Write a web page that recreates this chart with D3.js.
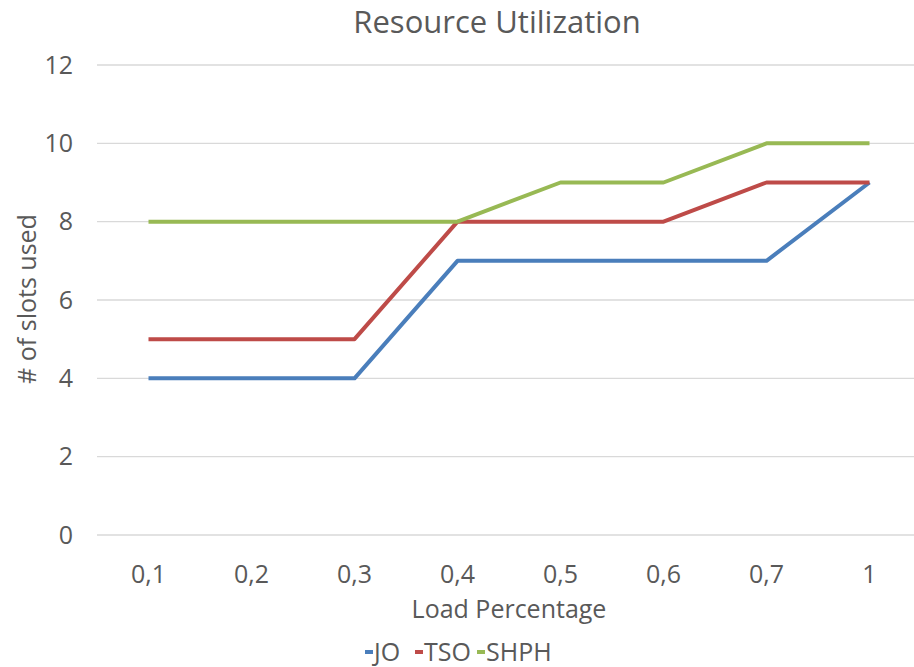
<!DOCTYPE html>
<html>
<head>
<meta charset="utf-8">
<script src="https://cdn.jsdelivr.net/npm/d3@7"></script>
<style>
  body { margin: 0; background: #fff; }
  text { font-family: "Open Sans", sans-serif; fill: #595959; }
</style>
</head>
<body>
<div id="chart"></div>
<script>
// Chart data
var categories = ["0,1", "0,2", "0,3", "0,4", "0,5", "0,6", "0,7", "1"];
var seriesNames = ["JO", "TSO", "SHPH"];
var joValues = [4, 4, 4, 7, 7, 7, 7, 9];
var tsoValues = [5, 5, 5, 8, 8, 8, 9, 9];
var shphValues = [8, 8, 8, 8, 9, 9, 10, 10];
var yTicks = [0, 2, 4, 6, 8, 10, 12];

var colors = ["#4a7ebb", "#be4b48", "#98b954"];
var allValues = [joValues, tsoValues, shphValues];

var width = 914;
var height = 667;
var plotLeft = 97, plotRight = 921, plotTop = 65, plotBottom = 535;

var svg = d3.select("#chart")
    .append("svg")
    .attr("width", width)
    .attr("height", height);

var xScale = d3.scaleBand()
    .domain(categories)
    .range([plotLeft, plotRight]);

var yScale = d3.scaleLinear()
    .domain([0, 12])
    .range([plotBottom, plotTop]);

// gridlines
svg.append("g")
    .selectAll("line")
    .data(yTicks)
    .enter()
    .append("line")
    .attr("x1", plotLeft)
    .attr("x2", plotRight)
    .attr("y1", function(d) { return yScale(d); })
    .attr("y2", function(d) { return yScale(d); })
    .attr("stroke", "#d9d9d9")
    .attr("stroke-width", 1.3);

// y tick labels
svg.append("g")
    .selectAll("text")
    .data(yTicks)
    .enter()
    .append("text")
    .attr("x", 73)
    .attr("y", function(d) { return yScale(d); })
    .attr("dy", "0.35em")
    .attr("text-anchor", "end")
    .attr("font-size", 25)
    .text(function(d) { return d; });

// x tick labels
svg.append("g")
    .selectAll("text")
    .data(categories)
    .enter()
    .append("text")
    .attr("x", function(d) { return xScale(d) + xScale.bandwidth() / 2; })
    .attr("y", 583)
    .attr("text-anchor", "middle")
    .attr("font-size", 25)
    .text(function(d) { return d; });

// lines
var line = d3.line()
    .x(function(d, i) { return xScale(categories[i]) + xScale.bandwidth() / 2; })
    .y(function(d) { return yScale(d); });

svg.append("g")
    .selectAll("path")
    .data(allValues)
    .enter()
    .append("path")
    .attr("d", line)
    .attr("fill", "none")
    .attr("stroke", function(d, i) { return colors[i]; })
    .attr("stroke-width", 4)
    .attr("stroke-linejoin", "round");

// title
svg.append("text")
    .attr("x", 497)
    .attr("y", 33)
    .attr("text-anchor", "middle")
    .attr("font-size", 31)
    .text("Resource Utilization");

// axis titles
svg.append("text")
    .attr("x", 509)
    .attr("y", 618)
    .attr("text-anchor", "middle")
    .attr("font-size", 25)
    .text("Load Percentage");

svg.append("text")
    .attr("transform", "translate(36, 299) rotate(-90)")
    .attr("text-anchor", "middle")
    .attr("font-size", 25)
    .text("# of slots used");

// legend
var legend = svg.append("g").attr("transform", "translate(365, 652)");
var legendX = [0, 50, 112];
var items = legend.selectAll("g")
    .data(seriesNames)
    .enter()
    .append("g")
    .attr("transform", function(d, i) { return "translate(" + legendX[i] + ",0)"; });

items.append("line")
    .attr("x1", 0)
    .attr("x2", 8)
    .attr("y1", 0)
    .attr("y2", 0)
    .attr("stroke", function(d, i) { return colors[i]; })
    .attr("stroke-width", 4);

items.append("text")
    .attr("x", 9)
    .attr("y", 0)
    .attr("dy", "0.35em")
    .attr("font-size", 25)
    .text(function(d) { return d; });
</script>
</body>
</html>
